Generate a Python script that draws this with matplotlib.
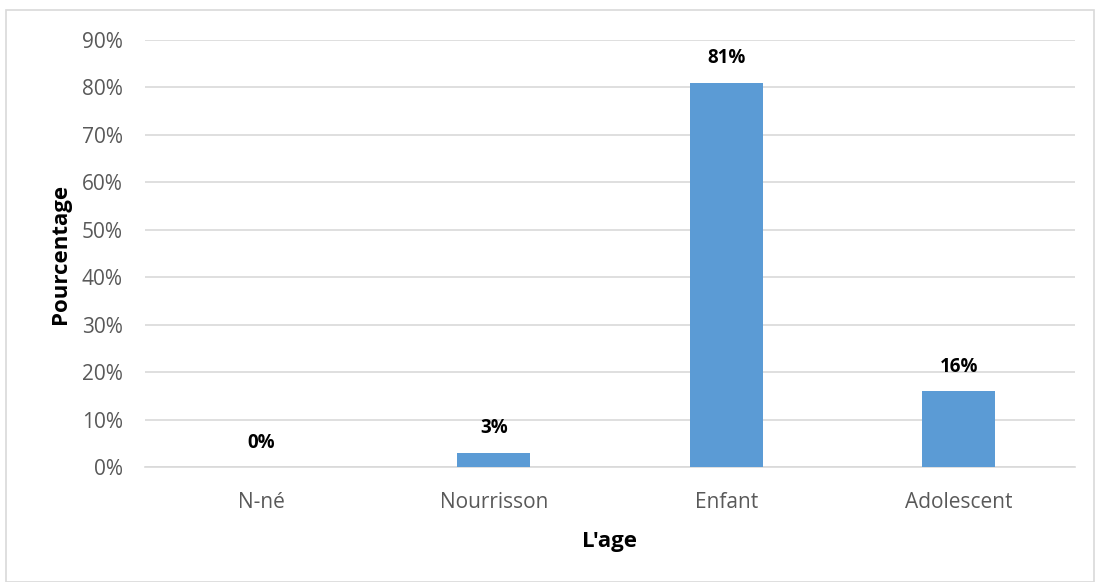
import matplotlib.pyplot as plt
from matplotlib.patches import Rectangle
from matplotlib.ticker import PercentFormatter

categories = ['N-né', 'Nourrisson', 'Enfant', 'Adolescent']
values = [0, 3, 81, 16]
value_labels = ['0%', '3%', '81%', '16%']

plt.rcParams['font.family'] = ['Open Sans', 'DejaVu Sans']

fig = plt.figure(figsize=(10.95, 5.82), dpi=100)
ax = fig.add_axes([145 / 1095, 1 - 467 / 582, 930 / 1095, 427 / 582])

# outer chart frame
fig.patches.append(Rectangle((6 / 1095, 0), 1088 / 1095, 572 / 582, transform=fig.transFigure,
                             fill=False, edgecolor='#d9d9d9', linewidth=1.2))

x = range(len(categories))
ax.bar(x, values, width=0.315, color='#5b9bd5', zorder=3)

for i, (v, lab) in enumerate(zip(values, value_labels)):
    ax.annotate(lab, (i, v), xytext=(0, 17.5), textcoords='offset points',
                ha='center', va='center', fontsize=13.5, fontweight='bold', color='black')

ax.set_xlim(-0.5, 3.5)
ax.set_ylim(0, 90)
ax.set_yticks(range(0, 91, 10))
ax.yaxis.set_major_formatter(PercentFormatter(decimals=0))
ax.set_xticks(list(x))
ax.set_xticklabels(categories)
ax.tick_params(length=0, labelsize=15, labelcolor='#595959')
ax.tick_params(axis='x', pad=18)
ax.tick_params(axis='y', pad=16)
ax.grid(axis='y', color='#d9d9d9', linewidth=1.2, zorder=0)

for s in ['top', 'right', 'left']:
    ax.spines[s].set_visible(False)
ax.spines['bottom'].set_color('#d9d9d9')
ax.spines['bottom'].set_linewidth(1.2)

ax.set_xlabel("L'age", fontsize=16, fontweight='bold', labelpad=13)
ax.set_ylabel('Pourcentage', fontsize=16, fontweight='bold', labelpad=8)

fig.savefig('out.png', dpi=100)
